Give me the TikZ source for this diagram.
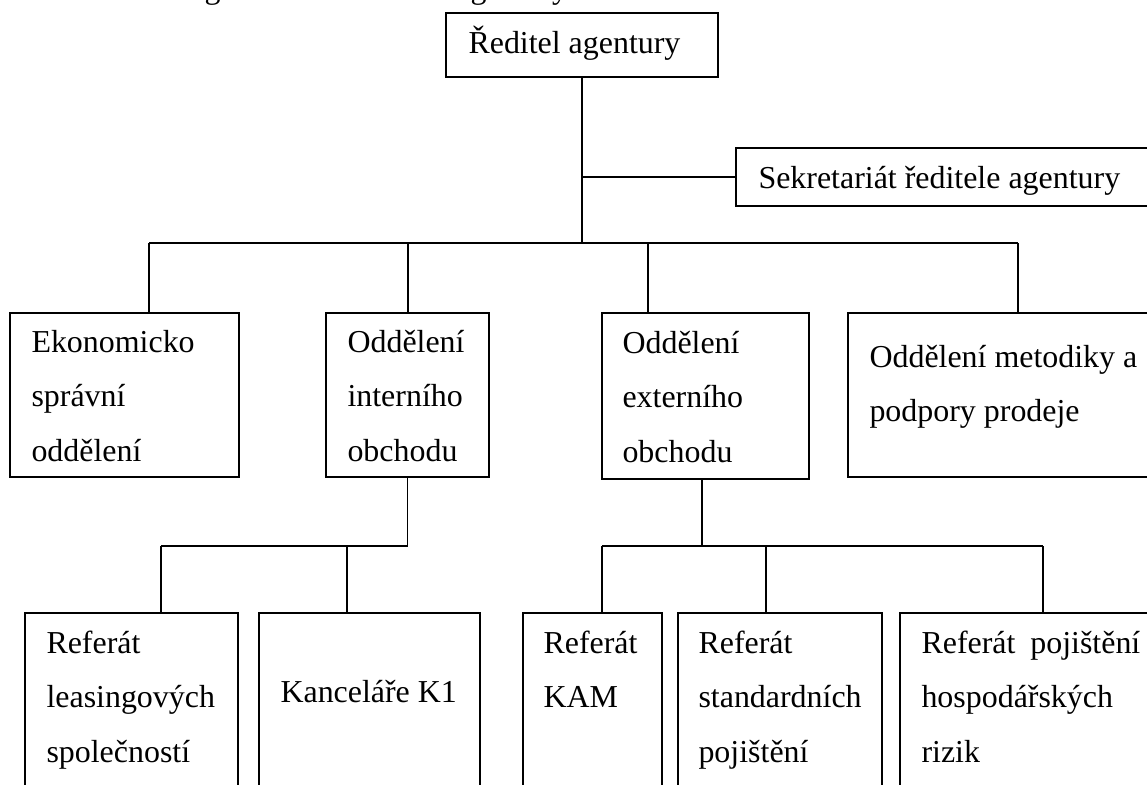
\documentclass[tikz,border=0pt]{standalone}
\usepackage{fontspec}
\setmainfont{Liberation Serif}
\usetikzlibrary{fit}
\tikzset{
  box/.style={draw, line width=0.75pt, inner sep=0pt, rectangle},
  conn/.style={line width=0.7pt},
  txt/.style={anchor=base west, inner sep=0pt, font=\fontsize{12}{20.67}\selectfont},
}
\begin{document}
\begin{tikzpicture}[x=0.3759pt,y=-0.3759pt]
\useasboundingbox (0,0) rectangle (1147,785);
\clip (0,0) rectangle (1147,785);
% cut-off caption line above the chart
\node[txt] (cap) at (171,-1.5) {Organizační struktura agentury};
% level 0
\node[box, fit={(446,13) (718,77)}] (red) {};
\node[txt] (red-t) at (468,53) {Ředitel agentury};
\node[box, fit={(736,148) (1170,206)}] (sek) {};
\node[txt] (sek-t) at (758,188) {Sekretariát ředitele agentury};
% level 1
\node[box, fit={(10,313) (239,477)}] (eko) {};
\node[txt] (eko-t) at (31,352) {\vtop{\hbox{Ekonomicko}\hbox{správní}\hbox{oddělení}}};
\node[box, fit={(326,313) (489,477)}] (int) {};
\node[txt] (int-t) at (347,352) {\vtop{\hbox{Oddělení}\hbox{interního}\hbox{obchodu}}};
\node[box, fit={(602,313) (809,479)}] (ext) {};
\node[txt] (ext-t) at (622,353) {\vtop{\hbox{Oddělení}\hbox{externího}\hbox{obchodu}}};
\node[box, fit={(848,313) (1170,477)}] (met) {};
\node[txt] (met-t) at (869,367) {\vtop{\hbox{Oddělení metodiky a}\hbox{podpory prodeje}}};
% level 2
\node[box, fit={(25,613) (238,800)}] (lea) {};
\node[txt] (lea-t) at (46,653) {\vtop{\hbox{Referát}\hbox{leasingových}\hbox{společností}}};
\node[box, fit={(259,613) (480,800)}] (kan) {};
\node[txt] (kan-t) at (280,702) {Kanceláře K1};
\node[box, fit={(523,613) (662,800)}] (kam) {};
\node[txt] (kam-t) at (543,653) {\vtop{\hbox{Referát}\hbox{KAM}}};
\node[box, fit={(678,613) (882,800)}] (std) {};
\node[txt] (std-t) at (698,653) {\vtop{\hbox{Referát}\hbox{standardních}\hbox{pojištění}}};
\node[box, fit={(900,613) (1170,800)}] (hos) {};
\node[txt] (hos-t) at (921,653) {\vtop{\hbox{Referát\hskip5.6pt pojištění}\hbox{hospodářských}\hbox{rizik}}};
% connectors
\coordinate (busL) at (149,243);
\coordinate (busR) at (1018,243);
\coordinate (dInt) at (408,243);
\coordinate (dExt) at (648,243);
\draw[conn] (red.south) -- (red.south |- busL);
\draw[conn] (red.south |- sek.west) -- (sek.west);
\draw[conn] (busL) -- (busR);
\draw[conn] (busL) -- (busL |- eko.north);
\draw[conn] (dInt) -- (dInt |- int.north);
\draw[conn] (dExt) -- (dExt |- ext.north);
\draw[conn] (busR) -- (busR |- met.north);
% internal trade branch
\coordinate (iL) at (161,546);
\coordinate (iK) at (347,546);
\draw[conn] (int.south) -- (int.south |- iL);
\draw[conn] (iL) -- (int.south |- iL);
\draw[conn] (iL) -- (iL |- lea.north);
\draw[conn] (iK) -- (iK |- kan.north);
% external trade branch
\coordinate (e0) at (702,546);
\coordinate (eL) at (602,546);
\coordinate (eM) at (766,546);
\coordinate (eR) at (1043,546);
\draw[conn] (e0 |- ext.south) -- (e0);
\draw[conn] (eL) -- (eR);
\draw[conn] (eL) -- (eL |- kam.north);
\draw[conn] (eM) -- (eM |- std.north);
\draw[conn] (eR) -- (eR |- hos.north);
\end{tikzpicture}
\end{document}
